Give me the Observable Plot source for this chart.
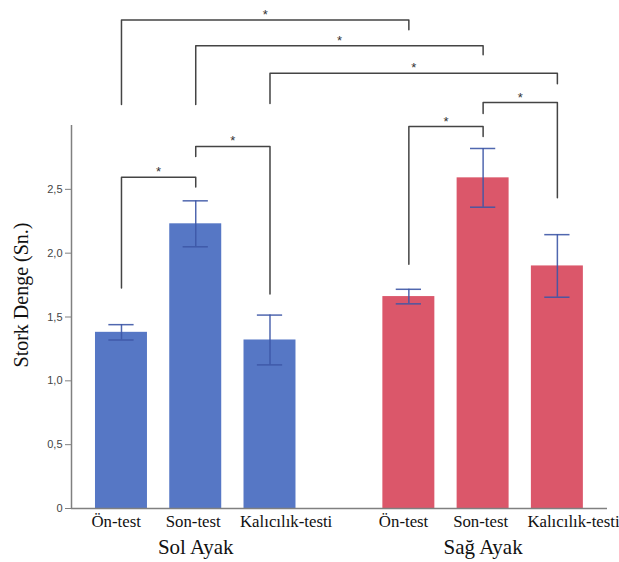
<!DOCTYPE html>
<html>
<head>
<meta charset="utf-8">
<script src="https://cdn.jsdelivr.net/npm/d3@7"></script>
<script src="https://cdn.jsdelivr.net/npm/@observablehq/plot@0.6"></script>
<style>
  html, body { margin: 0; padding: 0; background: #fff; }
</style>
</head>
<body>
<div id="chart"></div>
<script>
// ---- data ----
const conditions = ["Ön-test", "Son-test", "Kalıcılık-testi"];
const groups = ["Sol Ayak", "Sağ Ayak"];
const solMean = [1.38, 2.23, 1.32];
const solErr = [0.06, 0.18, 0.195];
const sagMean = [1.66, 2.59, 1.90];
const sagErr = [0.057, 0.23, 0.245];
const yTicks = [0, 0.5, 1, 1.5, 2, 2.5];
const yLabel = "Stork Denge (Sn.)";
// significance brackets: [group, condition] endpoints, heights in y units
const brackets = [
  {a: [0, 0], b: [1, 0], top: 3.826, left: 3.164, right: 3.75},
  {a: [0, 1], b: [1, 1], top: 3.625, left: 3.164, right: 3.555},
  {a: [0, 2], b: [1, 2], top: 3.409, left: 3.172, right: 3.328},
  {a: [0, 0], b: [0, 1], top: 2.594, left: 1.727, right: 2.518},
  {a: [0, 1], b: [0, 2], top: 2.836, left: 2.758, right: 1.68},
  {a: [1, 0], b: [1, 1], top: 2.992, left: 1.914, right: 2.914},
  {a: [1, 1], b: [1, 2], top: 3.18, left: 3.094, right: 2.434}
];

// ---- layout ----
const groupColors = ["#5677c5", "#db576a"];
const errColor = "#3d57a6";
const groupStart = [0, 3.87];
const xDomain = [-0.673, 6.545];
const barHalf = 0.35, capHalf = 0.17;
const serif = "'Liberation Serif', 'Times New Roman', serif";
const sans = "'Liberation Sans', Arial, sans-serif";

const means = [solMean, sagMean];
const errs = [solErr, sagErr];
const pos = (gi, ci) => groupStart[gi] + ci;

const rows = groups.flatMap((g, gi) => conditions.map((c, ci) => ({
  group: g, gi, cond: c, ci, pos: pos(gi, ci),
  mean: means[gi][ci], err: errs[gi][ci], color: groupColors[gi]
})));
const caps = rows.flatMap(d => [{pos: d.pos, y: d.mean - d.err}, {pos: d.pos, y: d.mean + d.err}]);

const bracketPts = brackets.flatMap((b, id) => {
  const xa = pos(...b.a), xb = pos(...b.b);
  return [
    {id, x: xa, y: b.left}, {id, x: xa, y: b.top},
    {id, x: xb, y: b.top}, {id, x: xb, y: b.right}
  ];
});
const stars = brackets.map(b => ({x: (pos(...b.a) + pos(...b.b)) / 2, y: b.top}));

const fmt = d => d === 0 ? "0" : d.toFixed(1).replace(".", ",");

const chart = Plot.plot({
  width: 619,
  height: 562,
  marginTop: 125,
  marginBottom: 54,
  marginLeft: 71,
  marginRight: 12,
  x: {type: "linear", domain: xDomain, axis: null},
  y: {domain: [0, 3]},
  color: {type: "identity"},
  marks: [
    Plot.rectY(rows, {x1: d => d.pos - barHalf, x2: d => d.pos + barHalf, y1: 0, y2: "mean", fill: "color"}),
    Plot.ruleX(rows, {x: "pos", y1: d => d.mean - d.err, y2: d => d.mean + d.err, stroke: errColor, strokeWidth: 1.5, strokeOpacity: 0.9}),
    Plot.ruleY(caps, {y: "y", x1: d => d.pos - capHalf, x2: d => d.pos + capHalf, stroke: errColor, strokeWidth: 1.5, strokeOpacity: 0.9}),
    Plot.ruleY([0], {stroke: "#808080", strokeWidth: 1.5}),
    Plot.ruleX([xDomain[0]], {y1: 0, y2: 3, stroke: "#808080", strokeWidth: 1.5}),
    Plot.axisY({ticks: yTicks, tickFormat: fmt, tickSize: 6, tickPadding: 3, fontSize: 11, fontFamily: sans, color: "#444", stroke: "#808080", label: null}),
    Plot.text(rows, {x: d => d.pos - barHalf, y: 0, text: "cond", dx: -4, dy: 18, textAnchor: "start", lineAnchor: "bottom", fontSize: 16.8, fontFamily: serif, fill: "#111"}),
    Plot.text(groups, {x: (d, i) => groupStart[i] + 1, y: 0, text: d => d, dy: 45, lineAnchor: "bottom", fontSize: 21, fontFamily: serif, fill: "#111"}),
    Plot.text([yLabel], {frameAnchor: "left", text: d => d, rotate: -90, dx: -44, dy: -22, textAnchor: "middle", lineAnchor: "bottom", fontSize: 20, fontFamily: serif, fill: "#111"}),
    Plot.line(bracketPts, {x: "x", y: "y", z: "id", stroke: "#444", strokeWidth: 1.5}),
    Plot.text(stars, {x: "x", y: "y", text: () => "*", dy: -1, lineAnchor: "bottom", fontSize: 13, fontFamily: sans, fill: "#333"})
  ]
});
document.getElementById("chart").appendChild(chart);
</script>
</body>
</html>
